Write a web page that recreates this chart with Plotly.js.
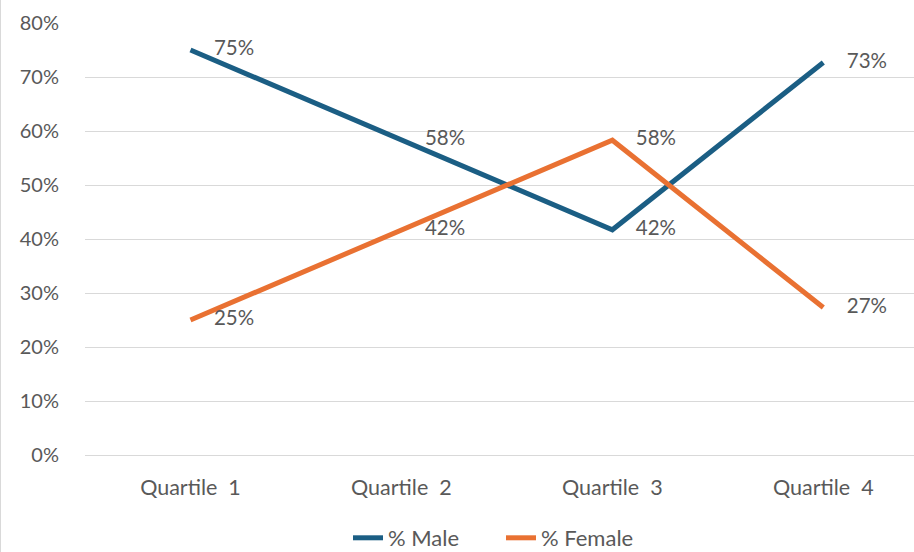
<!DOCTYPE html>
<html>
<head>
<meta charset="utf-8">
<script src="https://cdn.plot.ly/plotly-3.0.1.min.js"></script>
<style>html,body{margin:0;padding:0;background:#fff;overflow:hidden}#chart{width:914px;height:552px}</style>
</head>
<body>
<div id="chart"></div>
<script>
const categories = ["Quartile  1", "Quartile  2", "Quartile  3", "Quartile  4"];
const maleValues = [0.75, 0.583, 0.417, 0.727];
const femaleValues = [0.25, 0.417, 0.583, 0.273];
const yTickValues = [0, 0.1, 0.2, 0.3, 0.4, 0.5, 0.6, 0.7, 0.8];
const yTickLabels = ["0%", "10%", "20%", "30%", "40%", "50%", "60%", "70%", "80%"];

const textColor = "#595959";
const fontFamily = "Lato, 'Open Sans', sans-serif";

function makeTrace(values, name, color) {
  return {
    x: [0, 1, 2, 3], y: values, name: name, type: "scatter", mode: "lines+markers+text",
    line: {color: color, width: 5},
    marker: {size: 36, color: "rgba(0,0,0,0)", line: {width: 0}},
    texttemplate: "%{y:.0%}", textposition: "middle right",
    textfont: {size: 20.5, color: textColor, family: fontFamily},
    cliponaxis: false
  };
}

const traces = [
  makeTrace(maleValues, "% Male", "#1B5E84"),
  makeTrace(femaleValues, "% Female", "#E97132")
];

const layout = {
  width: 914, height: 552,
  margin: {l: 85, r: 0, t: 23, b: 97, autoexpand: false},
  paper_bgcolor: "#ffffff", plot_bgcolor: "#ffffff",
  font: {family: fontFamily, size: 20, color: textColor},
  showlegend: true,
  legend: {orientation: "h", xref: "container", yref: "container",
           x: 348 / 914, xanchor: "left", y: 14 / 552, yanchor: "middle",
           font: {size: 22, color: textColor}, entrywidth: 108, tracegroupgap: 0,
           bgcolor: "rgba(0,0,0,0)"},
  xaxis: {
    range: [-0.5, 3.43], tickvals: [0, 1, 2, 3], ticktext: categories,
    showgrid: false, zeroline: false, showline: true, linecolor: "#D9D9D9", linewidth: 1,
    ticks: "", ticklabelstandoff: 13, tickfont: {size: 21.5}, fixedrange: true
  },
  yaxis: {
    range: [0, 0.8], tickvals: yTickValues, ticktext: yTickLabels,
    showgrid: true, gridcolor: "#D9D9D9", gridwidth: 1, zeroline: false, showline: false,
    ticks: "", ticklabelstandoff: 25, fixedrange: true
  },
  shapes: [
    {type: "line", xref: "paper", yref: "paper", x0: -0.1019, x1: -0.1019, y0: -0.3, y1: 1.06,
     line: {color: "#D9D9D9", width: 1}}
  ]
};

Plotly.newPlot("chart", traces, layout, {displayModeBar: false, staticPlot: true});
</script>
</body>
</html>
